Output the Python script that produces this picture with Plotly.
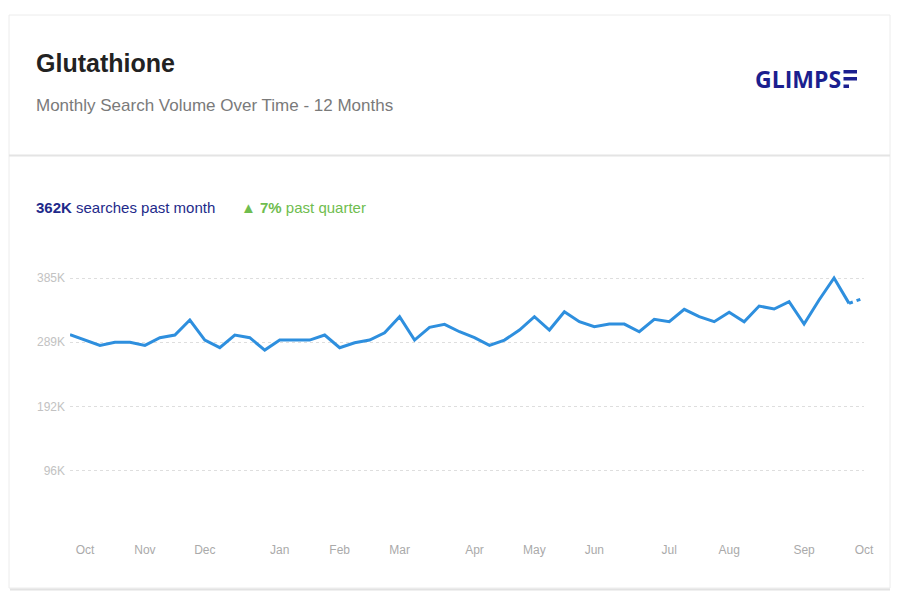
import pandas as pd
import plotly.graph_objects as go

# ---- data (weekly search volume) ----
start_date = "2022-09-29"
values = [300000, 292000, 284000, 288600, 288600, 284000, 295600, 299600, 322000, 292000,
          280600, 299600, 295600, 277000, 292000, 292000, 292000, 299600, 280600, 288000,
          292000, 303000, 327000, 292000, 311000, 315600, 304500, 295600, 284000, 292000,
          307000, 327000, 307000, 334500, 319500, 312000, 316000, 316000, 304500, 323000,
          319500, 338000, 327000, 319500, 333600, 319500, 343000, 338500, 349500, 316000,
          352000, 385000, 347000, 355000]
dates = list(pd.date_range(start_date, periods=len(values), freq="7D"))

title = "Glutathione"
subtitle = "Monthly Search Volume Over Time - 12 Months"
past_month = "362K"
quarter_change = "7%"
ytick_labels = ["", "96K", "192K", "289K", "385K"]

# tick positions: first week of each month
tick_dates = [d for k, d in enumerate(dates) if k > 0 and d.month != dates[k - 1].month]

ymax = max(values)
ytick_vals = [ymax * k / 4 for k in range(5)]

# ---- layout geometry (screen pixels; page has an 8px body margin) ----
OFF = 8
W, H = 900 - OFF, 600 - OFF
L, R, T, B = 70, 864, 268, 535

def px_x(x):
    return (x - L) / (R - L)

def px_y(y):
    return (B - y) / (B - T)

SANS = "Liberation Sans, Arial, sans-serif"
LINE = "#2e8fde"

fig = go.Figure()
fig.add_trace(go.Scatter(x=dates[:-1], y=values[:-1], mode="lines",
                         line=dict(color=LINE, width=3), hoverinfo="skip"))
fig.add_trace(go.Scatter(x=dates[-2:], y=values[-2:], mode="lines",
                         line=dict(color=LINE, width=3, dash="4px,4px"), hoverinfo="skip"))

ytop = ymax * (B - T) / (B - 278)

fig.update_layout(
    width=W, height=H,
    margin=dict(l=L - OFF, r=900 - R, t=T - OFF, b=600 - B, pad=0),
    paper_bgcolor="white", plot_bgcolor="white",
    showlegend=False,
    xaxis=dict(range=[dates[0], dates[-1]], showgrid=False, zeroline=False, showline=False,
               tickvals=tick_dates, tickformat="%b", ticks="",
               tickfont=dict(family=SANS, size=12, color="#aaaaaa"),
               ticklabelstandoff=6),
    yaxis=dict(range=[0, ytop], showgrid=True, griddash="dot", gridcolor="#dedede", gridwidth=1,
               zeroline=False, showline=False, tickvals=ytick_vals, ticktext=ytick_labels,
               ticks="", tickfont=dict(family=SANS, size=12, color="#c2c2c2"),
               ticklabelstandoff=4),
)

shapes = [
    # card outline
    dict(type="rect", xref="paper", yref="paper", x0=px_x(9), x1=px_x(890), y0=px_y(15), y1=px_y(588),
         line=dict(color="#ececec", width=1), fillcolor="rgba(0,0,0,0)", layer="below"),
    # bottom shadow
    dict(type="line", xref="paper", yref="paper", x0=px_x(10), x1=px_x(890), y0=px_y(589.5), y1=px_y(589.5),
         line=dict(color="#e2e2e2", width=2)),
    # header separator
    dict(type="line", xref="paper", yref="paper", x0=px_x(9), x1=px_x(890), y0=px_y(155.5), y1=px_y(155.5),
         line=dict(color="#e4e4e4", width=2)),
]
# logo "E" made of bars
LOGO = "#1b1f8f"
for (x0, x1, y0, y1) in [(843.5, 857, 70, 73.5), (843.5, 857, 77, 80.5), (843.5, 849, 84.5, 88)]:
    shapes.append(dict(type="rect", xref="paper", yref="paper", x0=px_x(x0), x1=px_x(x1),
                       y0=px_y(y1), y1=px_y(y0), line=dict(width=0), fillcolor=LOGO))
fig.update_layout(shapes=shapes)

ann = [
    dict(text="<b>" + title + "</b>", x=px_x(34), y=px_y(62.5), font=dict(family=SANS, size=25, color="#222222")),
    dict(text=subtitle, x=px_x(34), y=px_y(105.8), font=dict(family=SANS, size=17, color="#7a7a7a")),
    dict(text="<b>" + past_month + "</b> searches past month", x=px_x(34), y=px_y(207),
         font=dict(family=SANS, size=15, color="#1e2a8a")),
    dict(text="<b>\u25B2 " + quarter_change + "</b> past quarter", x=px_x(239), y=px_y(207),
         font=dict(family=SANS, size=15, color="#6fbd4f")),
    dict(text="<b>GLIMPS</b>", x=px_x(753), y=px_y(79), font=dict(family="Open Sans, sans-serif", size=23, color=LOGO)),
]
for a in ann:
    a.update(xref="paper", yref="paper", xanchor="left", yanchor="middle", showarrow=False)
fig.update_layout(annotations=ann)

fig.write_html("out.html")
